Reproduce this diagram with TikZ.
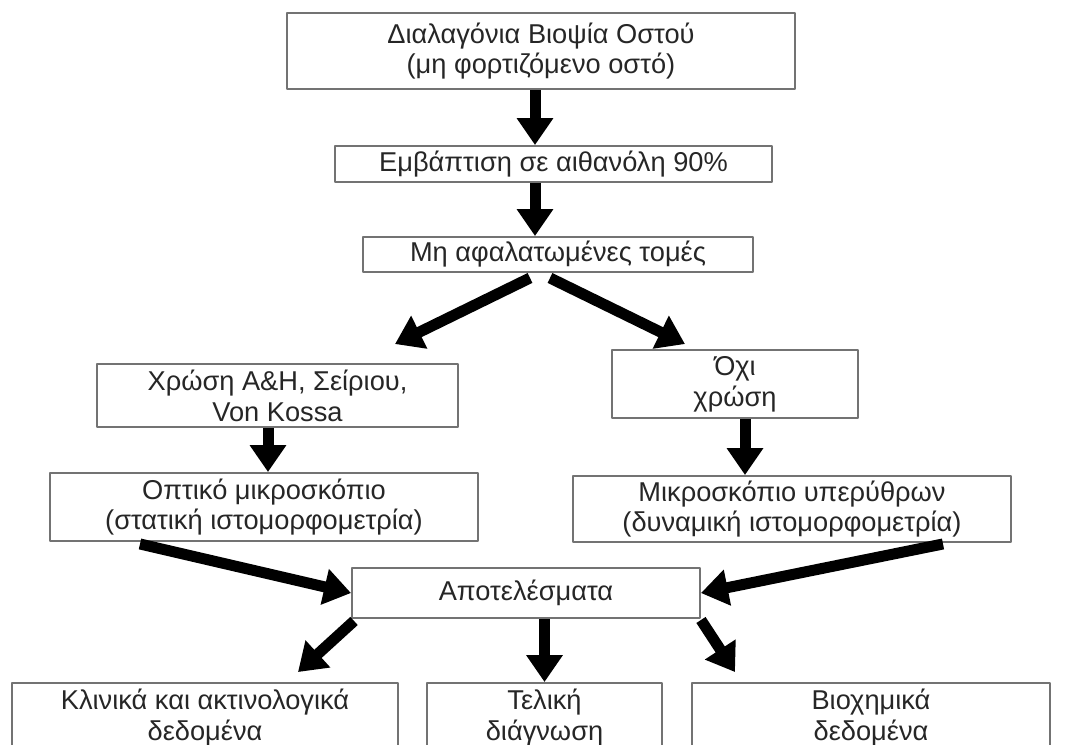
\documentclass[tikz,border=0pt]{standalone}
\usepackage{fontspec}
\setmainfont{Liberation Sans}
\usetikzlibrary{arrows.meta}

\begin{document}
\begin{tikzpicture}[line join=round, >={Triangle[length=0.54cm,width=0.70cm]}, font=\fontsize{15.5}{17.5}\selectfont]
	\tikzset{
		box/.style={draw=black!55, line width=1.1pt, align=center, inner sep=0pt, text=black!85},
		arr/.style={->, line width=0.22cm}
	}
	\useasboundingbox (0,0) rectangle (21.5,-14.88);
	\clip (0,0) rectangle (21.5,-14.88);
	% main column
	\coordinate (spine) at (10.7,0);
	\node[box, minimum width=10.16cm, minimum height=1.52cm] (biopsy) at (10.82,-1.02) {Διαλαγόνια Βιοψία Οστού\\(μη φορτιζόμενο οστό)};
	\node[box, minimum width=8.74cm, minimum height=0.72cm] (ethanol) at (11.07,-3.28) {Εμβάπτιση σε αιθανόλη 90\%};
	\node[box, minimum width=7.8cm, minimum height=0.70cm] (sections) at (11.16,-5.09) {Μη αφαλατωμένες τομές};
	% two branches
	\node[box, minimum width=7.22cm, minimum height=1.26cm] (stain) at (5.55,-7.91) {Χρώση Α\&Η, Σείριου,\\Von Kossa};
	\node[box, minimum width=4.92cm, minimum height=1.36cm] (nostain) at (14.70,-7.68) {Όχι\\χρώση};
	\node[box, minimum width=8.56cm, minimum height=1.36cm] (optic) at (5.28,-10.14) {Οπτικό μικροσκόπιο\\(στατική ιστομορφομετρία)};
	\node[box, minimum width=8.76cm, minimum height=1.32cm] (infra) at (15.84,-10.18) {Μικροσκόπιο υπερύθρων\\(δυναμική ιστομορφομετρία)};
	% results
	\node[box, minimum width=6.96cm, minimum height=1.0cm] (results) at (10.52,-11.86) {Αποτελέσματα};
	\node[box, minimum width=7.72cm, minimum height=1.38cm] (clinic) at (4.10,-14.35) {Κλινικά και ακτινολογικά\\δεδομένα};
	\node[box, minimum width=4.70cm, minimum height=1.38cm] (diagn) at (10.89,-14.35) {Τελική\\διάγνωση};
	\node[box, minimum width=7.16cm, minimum height=1.38cm] (biochem) at (17.42,-14.35) {Βιοχημικά\\δεδομένα};
	% arrows
	\draw[arr] (biopsy.south -| spine) -- (ethanol.north -| spine);
	\draw[arr] (ethanol.south -| spine) -- (sections.north -| spine);
	\draw[arr] ([xshift=-0.56cm,yshift=-0.1cm]sections.south) -- ([xshift=2.35cm,yshift=0.38cm]stain.north);
	\draw[arr] ([xshift=-0.16cm,yshift=-0.1cm]sections.south) -- ([xshift=-1.0cm,yshift=0.1cm]nostain.north);
	\draw[arr] ([xshift=-0.19cm]stain.south) -- ([xshift=-0.19cm]stain.south |- optic.north);
	\draw[arr] ([xshift=0.2cm]nostain.south) -- ([xshift=0.2cm]nostain.south |- infra.north);
	\draw[arr] ([xshift=-2.48cm,yshift=-0.04cm]optic.south) -- (results.west);
	\draw[arr] ([xshift=3.02cm,yshift=-0.02cm]infra.south) -- (results.east);
	\draw[arr] ([xshift=0.06cm,yshift=-0.04cm]results.south west) -- ([xshift=1.86cm,yshift=0.2cm]clinic.north);
	\draw[arr] (results.south -| diagn.north) -- (diagn.north);
	\draw[arr] ([yshift=-0.02cm]results.south east) -- ([xshift=-2.72cm,yshift=0.2cm]biochem.north);
\end{tikzpicture}
\end{document}
